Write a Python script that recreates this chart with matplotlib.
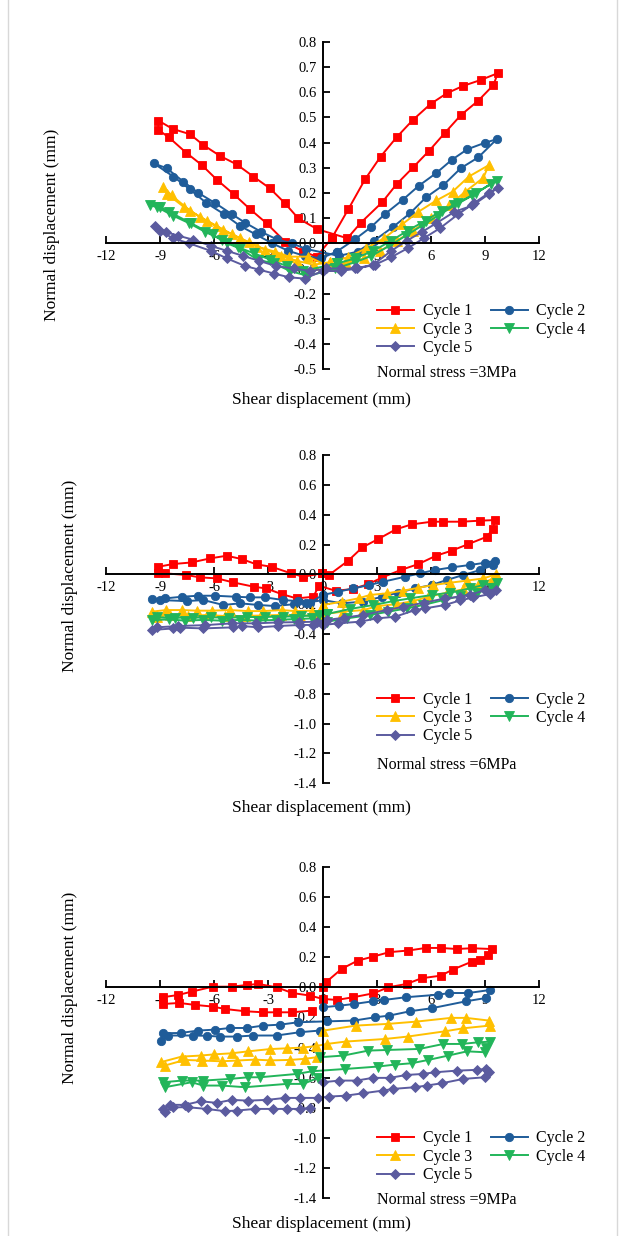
import matplotlib
matplotlib.use('Agg')
import matplotlib.pyplot as plt
from matplotlib.lines import Line2D

# ---------------- data ----------------
cycle_labels = ['Cycle 1', 'Cycle 2', 'Cycle 3', 'Cycle 4', 'Cycle 5']
stress_labels = ['Normal stress =3MPa', 'Normal stress =6MPa', 'Normal stress =9MPa']
x_ticks = [-12, -9, -6, -3, 0, 3, 6, 9, 12]
y_ticks_3 = [-0.5, -0.4, -0.3, -0.2, -0.1, 0.0, 0.1, 0.2, 0.3, 0.4, 0.5, 0.6, 0.7, 0.8]
y_ticks_6 = [-1.4, -1.2, -1.0, -0.8, -0.6, -0.4, -0.2, 0.0, 0.2, 0.4, 0.6, 0.8]
y_ticks_9 = [-1.4, -1.2, -1.0, -0.8, -0.6, -0.4, -0.2, 0.0, 0.2, 0.4, 0.6, 0.8]

# Normal stress = 3 MPa
p1_c1_x = [0.50, 1.42, 2.35, 3.21, 4.10, 4.99, 5.98, 6.87, 7.76, 8.75, 9.70,
           9.46, 8.62, 7.66, 6.78, 5.91, 5.02, 4.10, 3.30, 2.12, 1.37,
           -0.30, -1.35, -2.09, -2.92, -3.84, -4.76, -5.69, -6.61, -7.35, -8.31, -9.10,
           -9.10, -8.51, -7.57, -6.70, -5.84, -4.91, -4.03, -3.10, -2.09, -1.07, -0.33, 0.50]
p1_c1_y = [0.020, 0.135, 0.254, 0.344, 0.421, 0.489, 0.553, 0.595, 0.624, 0.648, 0.675,
           0.628, 0.566, 0.509, 0.439, 0.368, 0.302, 0.235, 0.163, 0.082, 0.020,
           0.056, 0.099, 0.159, 0.218, 0.265, 0.313, 0.347, 0.390, 0.433, 0.454, 0.487,
           0.450, 0.420, 0.360, 0.311, 0.251, 0.194, 0.136, 0.079, 0.007, -0.033, -0.053, 0.020]
p1_c2_x = [0.78, 1.79, 2.66, 3.45, 4.43, 5.32, 6.28, 7.15, 8.01, 8.99, 9.64,
           8.62, 7.65, 6.69, 5.72, 4.84, 3.92, 2.86, 1.94, 0.90,
           -0.94, -1.72, -2.55, -3.42, -4.30, -5.04, -5.96, -6.89, -7.72, -8.64, -9.35,
           -8.27, -7.35, -6.46, -5.47, -4.60, -3.70, -2.80, -1.90, -1.00, -0.10, 0.78]
p1_c2_y = [-0.033, 0.016, 0.063, 0.116, 0.172, 0.228, 0.278, 0.331, 0.373, 0.399, 0.413,
           0.341, 0.298, 0.231, 0.182, 0.119, 0.066, 0.011, -0.033, -0.050,
           -0.022, 0.000, 0.016, 0.046, 0.082, 0.116, 0.160, 0.200, 0.245, 0.298, 0.317,
           0.265, 0.214, 0.161, 0.116, 0.070, 0.035, 0.000, -0.030, -0.050, -0.060, -0.033]
p1_c3_x = [0.4, 1.4, 2.4, 3.4, 4.4, 5.3, 6.3, 7.2, 8.1, 9.2,
           8.9, 7.9, 7.0, 6.0, 5.0, 4.1, 3.2, 2.3, 1.3, 0.3,
           -0.8, -1.85, -2.64, -3.66, -4.58, -5.5, -6.43, -7.35, -8.37, -8.83,
           -8.6, -7.7, -6.8, -5.9, -5.0, -4.1, -3.2, -2.3, -1.4, -0.5, 0.4]
p1_c3_y = [-0.075, -0.055, -0.02, 0.02, 0.075, 0.125, 0.17, 0.205, 0.265, 0.31,
           0.26, 0.205, 0.15, 0.10, 0.05, 0.01, -0.03, -0.06, -0.08, -0.09,
           -0.053, -0.053, -0.033, -0.013, 0.02, 0.053, 0.089, 0.13, 0.19, 0.225,
           0.195, 0.145, 0.105, 0.07, 0.035, 0.005, -0.025, -0.05, -0.07, -0.085, -0.075]
p1_c4_x = [0.8, 1.8, 2.8, 3.8, 4.7, 5.7, 6.6, 7.5, 8.5, 9.64,
           9.3, 8.3, 7.3, 6.4, 5.5, 4.6, 3.7, 2.7, 1.8, 0.7,
           -0.8, -1.8, -2.7, -3.6, -4.6, -5.3, -6.1, -7.3, -8.5, -9.0, -9.57,
           -9.2, -8.3, -7.4, -6.5, -5.6, -4.7, -3.8, -2.9, -2.0, -1.1, 0.8]
p1_c4_y = [-0.08, -0.06, -0.03, 0.01, 0.05, 0.09, 0.13, 0.16, 0.20, 0.249,
           0.235, 0.19, 0.15, 0.11, 0.07, 0.03, -0.01, -0.05, -0.075, -0.10,
           -0.13, -0.11, -0.08, -0.065, -0.02, 0.0, 0.035, 0.08, 0.125, 0.145, 0.15,
           0.145, 0.11, 0.08, 0.045, 0.015, -0.015, -0.04, -0.065, -0.09, -0.11, -0.08]
p1_c5_x = [0.2, 1.0, 1.8, 2.8, 3.8, 4.65, 5.5, 6.3, 7.3, 8.3, 9.2, 9.7,
           9.2, 8.4, 7.5, 6.5, 5.6, 4.7, 3.8, 2.9, 1.9, 1.0,
           0.0, -1.0, -1.85, -2.7, -3.5, -4.3, -5.3, -6.2, -7.4, -8.3, -9.0, -9.3,
           -8.7, -8.0, -7.2, -6.2, -5.3, -4.4, -3.5, -2.6, -1.6, -0.7, 0.2]
p1_c5_y = [-0.10, -0.10, -0.10, -0.085, -0.03, 0.01, 0.045, 0.08, 0.125, 0.15, 0.195, 0.22,
           0.20, 0.16, 0.115, 0.06, 0.02, -0.02, -0.055, -0.085, -0.10, -0.11,
           -0.11, -0.14, -0.135, -0.12, -0.105, -0.09, -0.06, -0.03, 0.0, 0.02, 0.05, 0.07,
           0.045, 0.03, 0.015, -0.01, -0.03, -0.05, -0.07, -0.09, -0.10, -0.11, -0.10]

# Normal stress = 6 MPa
p2_c1_x = [-0.06, 0.35, 1.42, 2.20, 3.08, 4.06, 4.93, 6.04, 6.69, 7.70, 8.72, 9.55,
           9.42, 9.09, 8.07, 7.15, 6.28, 5.30, 4.32, 3.31, 2.53, 1.66, 0.72, -0.20,
           -0.52, -1.44, -2.27, -3.14, -3.80, -4.95, -5.84, -6.80, -7.57, -8.73, -9.10,
           -9.10, -8.31, -7.26, -6.24, -5.32, -4.49, -3.66, -2.83, -1.75, -1.07, -0.06]
p2_c1_y = [0.007, -0.004, 0.092, 0.181, 0.237, 0.302, 0.335, 0.353, 0.353, 0.353, 0.360, 0.364,
           0.302, 0.252, 0.203, 0.159, 0.125, 0.069, 0.029, -0.020, -0.065, -0.098, -0.110, -0.076,
           -0.150, -0.161, -0.132, -0.094, -0.083, -0.054, -0.027, -0.020, -0.004, 0.007, 0.007,
           0.051, 0.069, 0.080, 0.107, 0.125, 0.103, 0.067, 0.051, 0.007, -0.016, 0.007]
p2_c2_x = [0.0, 0.87, 1.70, 2.59, 3.36, 4.56, 5.39, 6.22, 7.15, 8.16, 9.00, 9.55,
           9.46, 8.72, 7.79, 6.87, 6.04, 5.12, 4.19, 3.27, 2.25, 1.05, 0.04,
           -0.90, -1.35, -2.18, -3.20, -4.03, -4.80, -5.96, -6.89, -7.81, -8.73, -9.47,
           -9.0, -7.53, -6.61, -5.50, -4.58, -3.56, -2.64, -1.60, -0.70, 0.0]
p2_c2_y = [-0.138, -0.116, -0.094, -0.071, -0.049, -0.016, 0.007, 0.029, 0.047, 0.063, 0.078, 0.092,
           0.063, 0.029, -0.004, -0.038, -0.071, -0.094, -0.123, -0.150, -0.183, -0.194, -0.172,
           -0.190, -0.179, -0.172, -0.154, -0.154, -0.150, -0.143, -0.143, -0.150, -0.161, -0.165,
           -0.172, -0.179, -0.172, -0.205, -0.194, -0.205, -0.212, -0.200, -0.190, -0.138]
p2_c3_x = [0.04, 1.05, 2.0, 2.62, 3.55, 4.47, 5.3, 6.13, 7.05, 7.98, 8.9, 9.6,
           9.46, 8.62, 7.79, 6.87, 5.85, 5.02, 4.10, 3.08, 2.25, 1.14, 0.04,
           -0.61, -1.53, -2.27, -3.29, -4.12, -5.13, -6.15, -6.98, -7.81, -8.68, -9.47,
           -9.2, -8.46, -7.44, -6.43, -5.41, -4.30, -3.3, -2.3, -1.26, -0.3, 0.04]
p2_c3_y = [-0.205, -0.183, -0.16, -0.138, -0.127, -0.109, -0.09, -0.071, -0.056, -0.042, -0.027, 0.0,
           -0.027, -0.071, -0.100, -0.123, -0.150, -0.179, -0.199, -0.212, -0.239, -0.250, -0.266,
           -0.243, -0.246, -0.239, -0.246, -0.246, -0.239, -0.243, -0.243, -0.239, -0.239, -0.250,
           -0.284, -0.272, -0.279, -0.272, -0.279, -0.279, -0.275, -0.272, -0.279, -0.27, -0.205]
p2_c4_x = [0.22, 1.51, 2.81, 3.92, 4.84, 6.04, 7.05, 8.16, 8.90, 9.64,
           9.36, 8.53, 7.61, 6.69, 5.58, 4.65, 3.64, 2.62, 1.33, 0.22,
           -0.61, -1.6, -2.6, -3.6, -4.6, -5.6, -6.6, -7.6, -8.5, -9.47,
           -9.2, -8.2, -7.2, -6.2, -5.2, -4.2, -3.2, -2.2, -1.2, -0.2, 0.22]
p2_c4_y = [-0.266, -0.232, -0.205, -0.179, -0.161, -0.138, -0.123, -0.094, -0.071, -0.060,
           -0.094, -0.123, -0.145, -0.172, -0.205, -0.228, -0.250, -0.272, -0.295, -0.317,
           -0.295, -0.300, -0.305, -0.310, -0.305, -0.310, -0.305, -0.310, -0.302, -0.306,
           -0.288, -0.290, -0.290, -0.288, -0.290, -0.286, -0.285, -0.283, -0.280, -0.272, -0.266]
p2_c5_x = [0.22, 1.2, 2.25, 3.55, 4.47, 5.6, 6.78, 7.6, 8.16, 8.99, 9.6,
           9.27, 8.35, 7.6, 6.78, 5.67, 5.1, 4.01, 2.99, 2.07, 0.87, 0.04,
           -0.52, -1.26, -2.46, -3.56, -4.49, -4.95, -6.61, -7.90, -8.27, -9.47,
           -9.2, -8.0, -6.5, -5.0, -3.7, -2.5, -1.3, -0.3, 0.22]
p2_c5_y = [-0.306, -0.29, -0.272, -0.239, -0.217, -0.19, -0.161, -0.15, -0.138, -0.105, -0.105,
           -0.132, -0.154, -0.175, -0.205, -0.228, -0.24, -0.284, -0.295, -0.317, -0.328, -0.339,
           -0.339, -0.339, -0.346, -0.355, -0.346, -0.355, -0.362, -0.357, -0.362, -0.373,
           -0.355, -0.346, -0.340, -0.328, -0.328, -0.322, -0.320, -0.317, -0.306]

# Normal stress = 9 MPa
p3_c1_x = [0.0, 0.18, 1.05, 1.94, 2.81, 3.69, 4.75, 5.72, 6.54, 7.42, 8.26, 9.36,
           9.18, 8.72, 8.26, 7.20, 6.54, 5.48, 4.65, 3.64, 2.81, 1.70, 0.78, 0.0,
           -0.70, -1.68, -2.55, -3.56, -4.21, -5.04, -6.09, -7.26, -8.00, -8.86,
           -8.86, -7.94, -7.07, -6.09, -5.41, -4.30, -3.29, -2.55, -1.72, -0.61]
p3_c1_y = [0.0, 0.033, 0.122, 0.177, 0.204, 0.233, 0.244, 0.261, 0.261, 0.254, 0.259, 0.254,
           0.215, 0.181, 0.170, 0.117, 0.077, 0.060, 0.022, 0.0, -0.040, -0.066, -0.084, -0.077,
           -0.055, -0.038, 0.0, 0.022, 0.015, 0.004, 0.004, -0.029, -0.051, -0.066,
           -0.111, -0.104, -0.117, -0.128, -0.144, -0.159, -0.166, -0.166, -0.166, -0.155]
p3_c2_x = [0.0, 0.92, 1.74, 2.77, 3.40, 4.62, 6.41, 7.02, 8.07, 9.27,
           9.05, 7.94, 6.04, 4.84, 3.69, 2.90, 1.74, 0.26,
           -1.35, -2.36, -3.29, -4.21, -5.13, -5.96, -6.89, -7.85, -8.83,
           -8.97, -8.55, -7.17, -6.40, -5.69, -4.76, -3.84, -2.55, -1.26, -0.15]
p3_c2_y = [-0.133, -0.122, -0.111, -0.093, -0.084, -0.066, -0.049, -0.038, -0.038, -0.018,
           -0.071, -0.093, -0.139, -0.159, -0.188, -0.199, -0.221, -0.226,
           -0.232, -0.248, -0.254, -0.270, -0.270, -0.281, -0.287, -0.303, -0.305,
           -0.354, -0.320, -0.320, -0.322, -0.327, -0.327, -0.320, -0.320, -0.298, -0.287]
p3_c3_x = [0.0, 1.85, 3.60, 5.17, 7.11, 7.94, 9.23,
           9.27, 7.79, 6.78, 4.71, 3.45, 1.29, 0.22,
           -0.35, -1.11, -2.0, -2.92, -4.12, -5.04, -6.0, -6.76, -7.81, -8.97,
           -8.74, -7.63, -6.70, -5.60, -4.76, -3.75, -2.9, -1.81, -1.0, -0.33]
p3_c3_y = [-0.288, -0.254, -0.243, -0.228, -0.203, -0.203, -0.221,
           -0.254, -0.272, -0.292, -0.327, -0.343, -0.360, -0.376,
           -0.390, -0.400, -0.405, -0.410, -0.425, -0.438, -0.445, -0.453, -0.460, -0.497,
           -0.519, -0.482, -0.486, -0.491, -0.486, -0.480, -0.485, -0.482, -0.475, -0.464]
p3_c4_x = [-0.15, 1.15, 2.53, 3.55, 5.36, 6.69, 7.70, 8.62, 9.27,
           9.05, 8.99, 8.0, 6.96, 5.85, 4.93, 4.01, 3.05, 1.24, -0.57,
           -1.44, -3.47, -4.12, -5.14, -6.61, -7.81, -8.83,
           -8.74, -7.26, -6.61, -5.60, -4.30, -1.99, -1.07, -0.24]
p3_c4_y = [-0.464, -0.453, -0.420, -0.416, -0.409, -0.376, -0.376, -0.365, -0.361,
           -0.400, -0.431, -0.425, -0.453, -0.482, -0.504, -0.513, -0.526, -0.542, -0.557,
           -0.575, -0.597, -0.597, -0.608, -0.619, -0.619, -0.630,
           -0.663, -0.630, -0.652, -0.652, -0.663, -0.641, -0.641, -0.600]
p3_c5_x = [0.0, 0.92, 1.88, 2.77, 3.73, 4.62, 5.54, 6.22, 7.42, 8.53, 9.05, 9.23,
           8.99, 7.79, 6.59, 5.76, 5.12, 3.92, 3.36, 2.25, 1.29, 0.37, -0.24,
           -1.26, -2.09, -3.07, -4.12, -5.04, -5.87, -6.76, -7.63, -8.46, -8.83,
           -8.74, -8.28, -7.44, -6.43, -5.41, -4.76, -3.75, -2.77, -1.99, -1.26, -0.70]
p3_c5_y = [-0.630, -0.619, -0.619, -0.601, -0.601, -0.582, -0.575, -0.564, -0.553, -0.548, -0.542, -0.564,
           -0.597, -0.608, -0.637, -0.652, -0.663, -0.674, -0.685, -0.703, -0.719, -0.725, -0.734,
           -0.734, -0.734, -0.747, -0.752, -0.747, -0.767, -0.756, -0.780, -0.780, -0.807,
           -0.830, -0.796, -0.796, -0.807, -0.822, -0.818, -0.807, -0.807, -0.807, -0.807, -0.800]

# ---------------- style ----------------
colors = ['#FF0000', '#1F5C99', '#FFC000', '#22B55A', '#5B5B9F']
markers = ['s', 'o', '^', 'v', 'D']
msizes = [5.5, 6.0, 6.5, 6.5, 5.0]

plt.rcParams['font.family'] = ['Liberation Serif', 'DejaVu Serif']

W, H = 624, 1236
fig = plt.figure(figsize=(W / 100, H / 100), dpi=100)

panels = [
    dict(series=[(p1_c1_x, p1_c1_y), (p1_c2_x, p1_c2_y), (p1_c3_x, p1_c3_y), (p1_c4_x, p1_c4_y), (p1_c5_x, p1_c5_y)],
         yticks=y_ticks_3, ylim=(-0.5, 0.8), fmt='{:.1f}', box=(106, 41.7, 539.3, 369.3),
         ylab=(52, 225), xlab_y=400, leg_y=312.7, ns_y=373, note=stress_labels[0]),
    dict(series=[(p2_c1_x, p2_c1_y), (p2_c2_x, p2_c2_y), (p2_c3_x, p2_c3_y), (p2_c4_x, p2_c4_y), (p2_c5_x, p2_c5_y)],
         yticks=y_ticks_6, ylim=(-1.4, 0.8), fmt='{:.1f}', box=(106, 455.0, 539.3, 783.3),
         ylab=(70, 576), xlab_y=808, leg_y=701, ns_y=765, note=stress_labels[1]),
    dict(series=[(p3_c1_x, p3_c1_y), (p3_c2_x, p3_c2_y), (p3_c3_x, p3_c3_y), (p3_c4_x, p3_c4_y), (p3_c5_x, p3_c5_y)],
         yticks=y_ticks_9, ylim=(-1.4, 0.8), fmt='{:.1f}', box=(106, 866.7, 539.3, 1198.3),
         ylab=(70, 988), xlab_y=1224, leg_y=1140, ns_y=1200, note=stress_labels[2]),
]

for p in panels:
    x0, y0, x1, y1 = p['box']
    ax = fig.add_axes([x0 / W, 1 - y1 / H, (x1 - x0) / W, (y1 - y0) / H])
    handles = []
    for i, (xs, ys) in enumerate(p['series']):
        h, = ax.plot(xs, ys, color=colors[i], marker=markers[i], markersize=msizes[i],
                     linewidth=1.4, markeredgewidth=0.6, label=cycle_labels[i])
        handles.append(h)
    ax.set_xlim(-12, 12)
    ax.set_ylim(*p['ylim'])
    for s in ['top', 'right']:
        ax.spines[s].set_visible(False)
    ax.spines['left'].set_position(('data', 0))
    ax.spines['bottom'].set_position(('data', 0))
    ax.spines['left'].set_linewidth(1.4)
    ax.spines['bottom'].set_linewidth(1.4)
    ax.set_xticks(x_ticks)
    ax.set_xticklabels([str(v) for v in x_ticks])
    ax.set_yticks(p['yticks'])
    ax.set_yticklabels([p['fmt'].format(v) for v in p['yticks']])
    ax.tick_params(direction='in', length=5, width=1.3, labelsize=10.5, pad=4.5)
    ax.patch.set_alpha(0)

    order = [0, 2, 4, 1, 3]
    fig.legend([handles[k] for k in order], [cycle_labels[k] for k in order],
               ncol=2, loc='upper left', bbox_to_anchor=(377 / W, 1 - (p['leg_y'] - 9.5) / H),
               bbox_transform=fig.transFigure, frameon=False, fontsize=11.5,
               handlelength=2.3, handletextpad=0.55, columnspacing=1.2,
               labelspacing=0.15, borderpad=0, borderaxespad=0)
    fig.text(377 / W, 1 - p['ns_y'] / H, p['note'], fontsize=11.5, ha='left', va='center')
    fig.text(p['ylab'][0] / W, 1 - p['ylab'][1] / H, 'Normal displacement (mm)',
             rotation=90, fontsize=12.5, ha='center', va='center')
    fig.text(321 / W, 1 - p['xlab_y'] / H, 'Shear displacement (mm)',
             fontsize=12.5, ha='center', va='center')

# thin light frame lines at the left and right edges of the image
for xe in (8, 617):
    fig.add_artist(Line2D([xe / W, xe / W], [0, 1], transform=fig.transFigure,
                          color='#d8d8d8', linewidth=1.0))

fig.savefig('out.png', dpi=100)
